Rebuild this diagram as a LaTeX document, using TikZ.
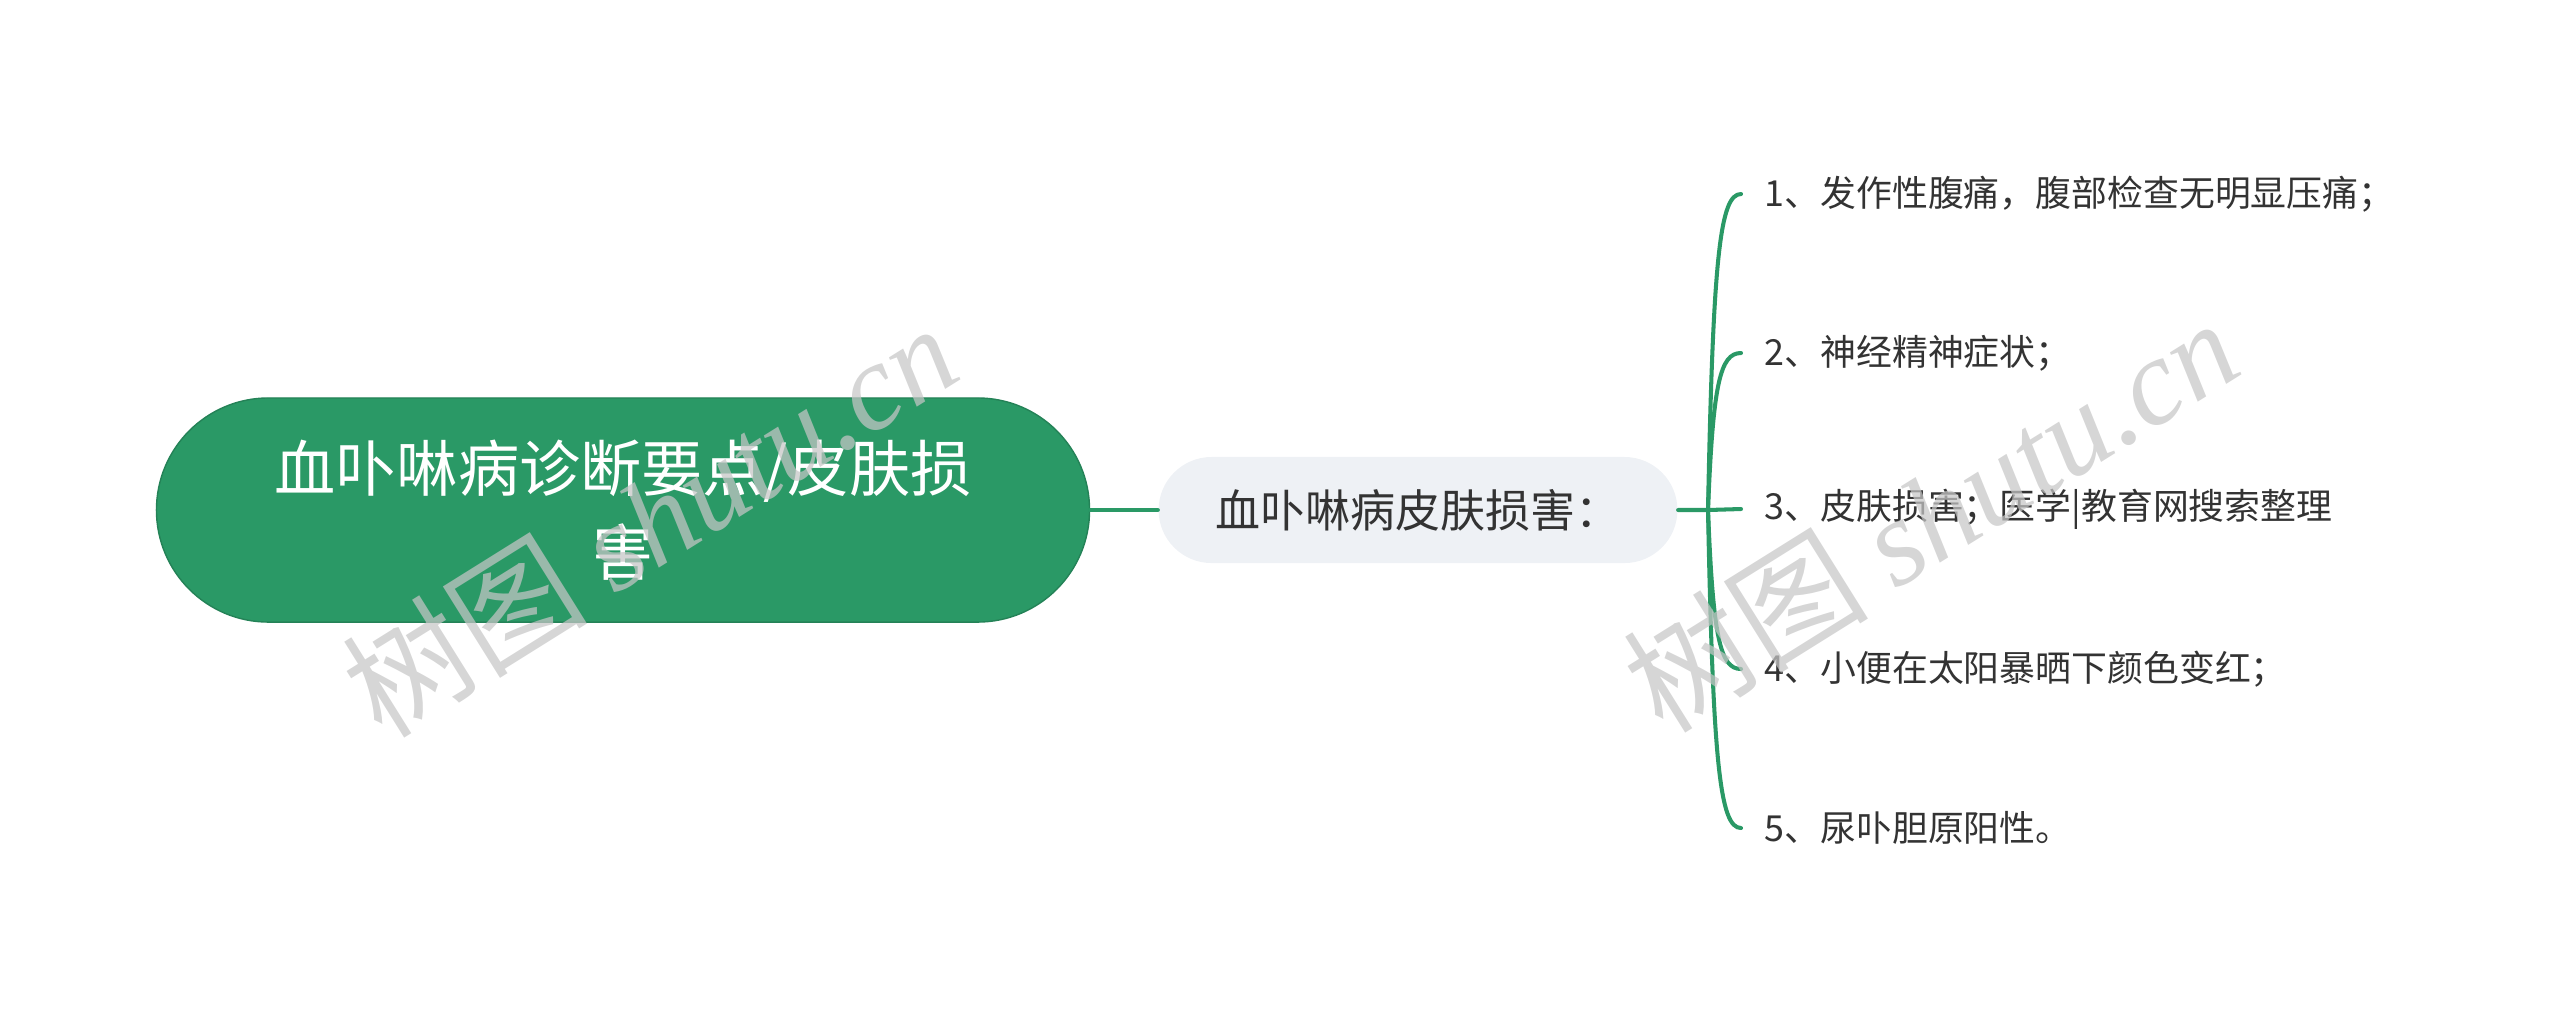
\documentclass[tikz,border=0pt]{standalone}
\usepackage{fontspec}
\usepackage{tikz}
\usetikzlibrary{positioning,shapes.misc}
\setmainfont{Noto Sans CJK SC}
\newfontfamily\wmfont{Liberation Serif}
\definecolor{leafgreen}{HTML}{2A9966}
\definecolor{pale}{HTML}{EEF1F5}
\definecolor{ink}{HTML}{333333}
\definecolor{wmgray}{HTML}{C6C6C6}
\tikzset{
  rootbox/.style={rounded rectangle, fill=leafgreen, draw=leafgreen!85!black, line width=0.4pt,
    minimum width=9.56cm, minimum height=2.24cm, text=white, align=center,
    font=\fontsize{17.4}{24}\selectfont},
  midbox/.style={rounded rectangle, fill=pale, minimum width=5.42cm, minimum height=1.06cm,
    text=ink, font=\fontsize{12.8}{15}\selectfont},
  leaf/.style={anchor=west, inner xsep=0.23cm, inner ysep=0pt, text=ink,
    font=\fontsize{10.2}{12}\selectfont},
  link/.style={draw=leafgreen, line width=1.15pt, line cap=round},
  wmark/.style={text=wmgray, opacity=0.72, rotate=32, font=\fontsize{35}{40}\selectfont},
}
\begin{document}
\begin{tikzpicture}[x=0.01cm, y=-0.01cm]
  \useasboundingbox (0,0) rectangle (2560,1020);
  \node[rootbox] (root) at (623,510) {血卟啉病诊断要点/皮肤损\\害};
  \node[midbox] (mid) at (1418,510) {血卟啉病皮肤损害：};
  \coordinate (fork) at (1708,510);
  \foreach \n/\y/\txt in {1/194/1、发作性腹痛，腹部检查无明显压痛；,
                          2/353/2、神经精神症状；,
                          3/509/3、皮肤损害；医学|教育网搜索整理,
                          4/669/4、小便在太阳暴晒下颜色变红；,
                          5/828/5、尿卟胆原阳性。}
    \node[leaf] (l\n) at (1741,\y) {\txt};
  \draw[link] (root.east) -- (mid.west);
  \draw[link] (mid.east) -- (fork) -- (l3.west);
  \foreach \n/\y/\c in {1/194/257, 2/353/384, 4/669/637, 5/828/764}
    \draw[link] (fork) .. controls (1713,\c) and (1720,\y) .. (l\n.west);
  % watermark
  \node[wmark] (wm1) at (649,519) {树图 {\wmfont\itshape shutu.cn}};
  \node[wmark] (wm2) at (1930,514) {树图 {\wmfont\itshape shutu.cn}};
\end{tikzpicture}
\end{document}
